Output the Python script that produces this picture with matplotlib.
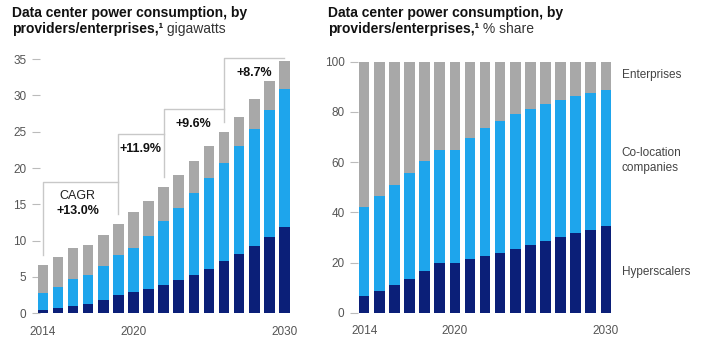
import numpy as np
import matplotlib.pyplot as plt

plt.rcParams['font.family'] = ['Liberation Sans', 'DejaVu Sans']

# data
years = list(range(2014, 2031))

# gigawatts, stacked segments
hyperscalers_gw = [0.5, 0.73, 1.0, 1.28, 1.78, 2.47, 2.88, 3.33, 3.88, 4.57, 5.3, 6.16, 7.17, 8.17, 9.3, 10.55, 11.9]
colocation_gw = [2.33, 2.87, 3.66, 3.97, 4.75, 5.53, 6.16, 7.35, 8.77, 10.0, 11.3, 12.54, 13.53, 14.83, 16.1, 17.45, 19.0]
enterprise_gw = [3.84, 4.16, 4.34, 4.15, 4.2, 4.28, 4.89, 4.75, 4.71, 4.52, 4.4, 4.34, 4.27, 4.1, 4.1, 4.0, 3.9]

# % share, stacked segments
hyperscalers_pct = [6.8, 8.6, 10.9, 13.5, 16.6, 19.8, 19.9, 21.4, 22.4, 23.9, 25.4, 27.0, 28.6, 30.1, 31.7, 33.1, 34.4]
colocation_pct = [35.3, 38.0, 40.1, 42.0, 43.8, 45.1, 45.0, 48.1, 51.1, 52.6, 53.8, 54.3, 54.4, 54.6, 54.5, 54.4, 54.4]
enterprise_pct = [57.9, 53.4, 49.0, 44.5, 39.6, 35.1, 35.1, 30.5, 26.5, 23.5, 20.8, 18.7, 17.0, 15.3, 13.8, 12.5, 11.2]

# CAGR brackets
cagr_start = [2014, 2019, 2022, 2026]
cagr_end = [2019, 2022, 2026, 2030]
cagr_level = [18.1, 24.7, 28.2, 35.2]
cagr_labels = ['+13.0%', '+11.9%', '+9.6%', '+8.7%']

segment_names = ['Hyperscalers', 'Co-location\ncompanies', 'Enterprises']
xtick_years = [2014, 2020, 2030]

NAVY = '#0b1f78'
BLUE = '#1ea5ec'
GREY = '#a8a8a8'
colors = [NAVY, BLUE, GREY]

fig = plt.figure(figsize=(7.02, 3.51), dpi=100)
ax1 = fig.add_axes([0.0456, 0.1074, 0.3725, 0.7447])
ax2 = fig.add_axes([0.4986, 0.1091, 0.3773, 0.7151])

width = 0.7


def stack(ax, segs):
    bottom = np.zeros(len(years))
    for vals, c in zip(segs, colors):
        ax.bar(years, vals, width, bottom=bottom, color=c, zorder=2)
        bottom += np.array(vals)
    return bottom


totals = stack(ax1, [hyperscalers_gw, colocation_gw, enterprise_gw])
stack(ax2, [hyperscalers_pct, colocation_pct, enterprise_pct])

for ax in (ax1, ax2):
    for s in ax.spines.values():
        s.set_visible(False)
    ax.set_axisbelow(True)
    ax.tick_params(axis='y', direction='in', length=6, color='#bbbbbb',
                   labelsize=8.5, labelcolor='#555555', pad=4)
    ax.tick_params(axis='x', length=0, labelsize=8.5, labelcolor='#555555', pad=9)
    ax.set_xticks(xtick_years)
    ax.set_xticklabels([str(y) for y in xtick_years])

ax1.set_xlim(2014 - 0.715, 2030.6)
ax1.set_ylim(0, 36)
ax1.set_yticks(range(0, 36, 5))

ax2.set_xlim(2014 - 0.94, 2030.6)
ax2.set_ylim(0, 100)
ax2.set_yticks(range(0, 101, 20))

# CAGR step brackets
lc = '#c8c8c8'
for i, (s, e, lvl, lab) in enumerate(zip(cagr_start, cagr_end, cagr_level, cagr_labels)):
    base = totals[years.index(s)] + 1.4
    ax1.plot([s, s, e], [base, lvl, lvl], color=lc, lw=1, zorder=1)
    mid = (s + e) / 2
    if i == 0:
        ax1.text(mid - 0.2, lvl - 2.0, 'CAGR', ha='center', va='center', fontsize=9, color='#222222')
        ax1.text(mid - 0.2, lvl - 4.0, lab, ha='center', va='center', fontsize=9,
                 fontweight='bold', color='#111111')
    else:
        ax1.text(mid, lvl - 2.1, lab, ha='center', va='center', fontsize=9,
                 fontweight='bold', color='#111111')

# segment labels on the right chart
label_y = [16.3, 60.5, 94.7]
for name, y in zip(segment_names, label_y):
    ax2.text(1.026, y / 100, name, transform=ax2.transAxes, ha='left', va='center',
             fontsize=8.5, color='#444444', linespacing=1.35)


# titles with bold part and normal unit
def title(x, unit):
    fig.text(x, 0.9507, 'Data center power consumption, by', fontsize=10,
             fontweight='bold', color='#111111', va='baseline')
    t2 = fig.text(x, 0.905, 'providers/enterprises,\u00b9', fontsize=10,
                  fontweight='bold', color='#111111', va='baseline')
    ax1.annotate(' ' + unit, xy=(1, 0), xycoords=t2, ha='left', va='bottom',
                 fontsize=10, color='#333333', annotation_clip=False)


title(0.0167, 'gigawatts')
title(0.467, '% share')

fig.savefig('out.png', dpi=100, facecolor='white')
